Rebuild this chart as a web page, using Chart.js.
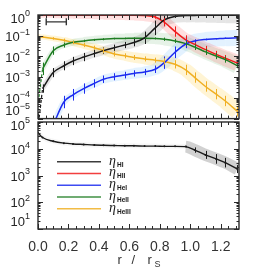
<!DOCTYPE html>
<html>
<head>
<meta charset="utf-8">
<script src="https://cdn.jsdelivr.net/npm/chart.js@4.4.1/dist/chart.umd.min.js"></script>
<style>
    body { margin: 0; background: #fff; width: 264px; height: 278px; overflow: hidden; position: relative; }
    canvas { position: absolute; left: 0; top: 0; }
</style>
</head>
<body>
<canvas id="bottomChart" width="264" height="278"></canvas>
<canvas id="topChart" width="264" height="124"></canvas>
<script>
// radius bins, r / r_S
var rGrid = [0, 0.03, 0.1, 0.17, 0.23, 0.3, 0.37, 0.43, 0.5, 0.57, 0.63, 0.7, 0.77, 0.83, 0.9, 0.97, 1.03, 1.1, 1.17, 1.23, 1.31];
var rMax = 1.32;

// top panel: log10 of the ion fractions
var logHI    = [null, -3.55, -2.78, -2.45, -2.22, -2.03, -1.86, -1.72, -1.58, -1.45, -1.33, -1.1, -0.62, -0.24, -0.07, -0.03, -0.02, -0.01, -0.01, -0.01, -0.01];
var logHII   = [-0.01, -0.01, -0.01, -0.01, -0.01, -0.01, -0.01, -0.01, -0.01, -0.01, -0.01, -0.03, -0.1, -0.35, -0.8, -1.2, -1.42, -1.67, -1.9, -2.08, -2.32];
var logHeI   = [null, null, -5.3, -4.2, -3.85, -3.55, -3.3, -3.1, -2.98, -2.9, -2.82, -2.75, -2.62, -2.3, -1.8, -1.4, -1.25, -1.18, -1.15, -1.12, -1.1];
var logHeII  = [null, -2.6, -1.72, -1.45, -1.32, -1.25, -1.2, -1.17, -1.14, -1.13, -1.12, -1.12, -1.13, -1.17, -1.25, -1.38, -1.55, -1.78, -1.98, -2.15, -2.45];
var logHeIII = [-1.04, -1.06, -1.13, -1.22, -1.33, -1.45, -1.58, -1.72, -1.88, -1.97, -2.05, -2.12, -2.18, -2.24, -2.38, -2.65, -3.02, -3.45, -3.82, -4.15, -4.65];

// half length of the error bars, dex
var errHI    = [0, 0.2, 0.22, 0.22, 0.2, 0.2, 0.18, 0.15, 0.15, 0.15, 0.18, 0.3, 0.35, 0.2, 0.05, 0.02, 0.01, 0.01, 0.01, 0.01, 0];
var errHII   = [0, 0, 0, 0, 0, 0, 0, 0, 0, 0, 0, 0.02, 0.08, 0.2, 0.25, 0.22, 0.2, 0.18, 0.17, 0.15, 0.12];
var errHeI   = [0, 0, 0, 0.3, 0.28, 0.25, 0.2, 0.18, 0.17, 0.16, 0.15, 0.15, 0.18, 0.3, 0.28, 0.2, 0.08, 0.04, 0.03, 0.03, 0.02];
var errHeII  = [0, 0.3, 0.2, 0.12, 0.08, 0.06, 0.05, 0.05, 0.04, 0.04, 0.04, 0.04, 0.05, 0.08, 0.1, 0.12, 0.14, 0.15, 0.15, 0.15, 0.12];
var errHeIII = [0, 0.05, 0.06, 0.08, 0.08, 0.1, 0.1, 0.12, 0.12, 0.12, 0.12, 0.12, 0.12, 0.15, 0.2, 0.25, 0.25, 0.25, 0.25, 0.25, 0.25];

// dashed inner parts
var rInnerHI = [0.004, 0.03];
var logInnerHI = [-5.2, -3.55];
var rInnerHeII = [0.002, 0.03];
var logInnerHeII = [-4.2, -2.6];

// resolution marker
var resX = [0.054, 0.186];
var resLog = -0.33;

// bottom panel
var logN = [4.6, 4.42, 4.28, 4.21, 4.18, 4.16, 4.14, 4.13, 4.12, 4.11, 4.11, 4.1, 4.1, 4.09, 4.09, 4.08, 3.95, 3.77, 3.62, 3.48, 3.24];
var errN = [0, 0, 0, 0, 0, 0, 0, 0, 0, 0, 0, 0, 0, 0, 0, 0.03, 0.1, 0.15, 0.18, 0.18, 0.15];

// axes
var xTickLabels = [0, 0.2, 0.4, 0.6, 0.8, 1.0, 1.2];
var topDecades = [0, -1, -2, -3, -4, -5];
var bottomDecades = [5, 4, 3, 2, 1];

var legendNames = ['HI', 'HII', 'HeI', 'HeII', 'HeIII'];
var colors = ['#1a1a1a', '#f01c1c', '#1c2cf0', '#1e7d22', '#f0b024'];
var clouds = ['rgba(0,0,0,0.10)', 'rgba(255,40,40,0.15)', 'rgba(70,170,255,0.15)', 'rgba(30,140,40,0.11)', 'rgba(255,200,40,0.2)'];

function pts(rs, logs) {
    var out = [];
    for (var i = 0; i < rs.length; i++) {
        out.push({ x: rs[i], y: logs[i] === null ? null : Math.pow(10, logs[i]) });
    }
    return out;
}

// spread gets wider further out
function spreadWidth(c) {
    return 5 + 9 * c.p0.parsed.x;
}

function curve(label, logs, errs, color, cloud) {
    return [{
        label: label, data: pts(rGrid, logs), logs: logs, errs: errs,
        borderColor: color, borderWidth: 1.5, pointRadius: 0,
        cubicInterpolationMode: 'monotone', clip: 0, order: 1
    }, {
        label: label + ' spread', data: pts(rGrid, logs),
        borderColor: cloud, borderWidth: 9, pointRadius: 0,
        segment: { borderWidth: spreadWidth },
        cubicInterpolationMode: 'monotone', clip: 0, order: 3
    }];
}

var errorBars = {
    id: 'errorBars',
    afterDatasetsDraw: function (chart) {
        var ctx = chart.ctx, a = chart.chartArea;
        var xs = chart.scales.x, ys = chart.scales.y;
        ctx.save();
        ctx.beginPath();
        ctx.rect(a.left, a.top, a.right - a.left, a.bottom - a.top);
        ctx.clip();
        chart.data.datasets.forEach(function (ds) {
            if (!ds.errs) return;
            ctx.strokeStyle = ds.borderColor;
            ctx.lineWidth = 1;
            ds.errs.forEach(function (e, i) {
                if (!e || ds.logs[i] === null) return;
                var x = Math.round(xs.getPixelForValue(rGrid[i])) + 0.5;
                ctx.beginPath();
                ctx.moveTo(x, ys.getPixelForValue(Math.pow(10, ds.logs[i] + e)));
                ctx.lineTo(x, ys.getPixelForValue(Math.pow(10, ds.logs[i] - e)));
                ctx.stroke();
            });
        });
        ctx.restore();
    }
};

var frame = {
    id: 'frame',
    afterDraw: function (chart, args, o) {
        var ctx = chart.ctx, a = chart.chartArea;
        var xs = chart.scales.x, ys = chart.scales.y;
        ctx.save();
        ctx.strokeStyle = '#2a2a2a';
        ctx.lineWidth = 1;
        ctx.beginPath();
        // inside ticks, x
        for (var k = 0; k * 0.05 <= rMax + 1e-9; k++) {
            var x = Math.round(xs.getPixelForValue(k * 0.05)) + 0.5;
            var len = k % 4 === 0 ? 5 : 3;
            ctx.moveTo(x, a.bottom); ctx.lineTo(x, a.bottom - len);
            ctx.moveTo(x, a.top); ctx.lineTo(x, a.top + len);
        }
        // inside ticks, log y
        for (var d = o.lo; d <= o.hi; d++) {
            for (var m = 1; m < 10; m++) {
                if (d === o.hi && m > 1) break;
                var y = Math.round(ys.getPixelForValue(m * Math.pow(10, d))) + 0.5;
                var l = m === 1 ? 5 : 2.5;
                ctx.moveTo(a.left, y); ctx.lineTo(a.left + l, y);
                ctx.moveTo(a.right, y); ctx.lineTo(a.right - l, y);
            }
        }
        ctx.stroke();
        ctx.lineWidth = 1.4;
        ctx.strokeRect(a.left, a.top, a.right - a.left, a.bottom - a.top);

        // y labels 10^n
        ctx.fillStyle = '#262626';
        ctx.textBaseline = 'middle';
        ctx.textAlign = 'left';
        o.decades.forEach(function (dec) {
            var yc = ys.getPixelForValue(Math.pow(10, dec)) + 1.5;
            yc = Math.min(Math.max(yc, a.top + 4), a.bottom - 7);
            var exp = String(dec).replace('-', '\u2212');
            ctx.font = '9px "Liberation Sans", Arial, sans-serif';
            var we = ctx.measureText(exp).width;
            ctx.font = '13px "Liberation Sans", Arial, sans-serif';
            var wb = ctx.measureText('10').width;
            var xr = a.left - 8;
            ctx.fillText('10', xr - we - wb, yc);
            ctx.font = '9px "Liberation Sans", Arial, sans-serif';
            ctx.fillText(exp, xr - we, yc - 5);
        });
        ctx.restore();
    }
};

var bottomDecor = {
    id: 'bottomDecor',
    afterDraw: function (chart) {
        var ctx = chart.ctx, a = chart.chartArea;
        ctx.save();
        // legend
        legendNames.forEach(function (name, i) {
            var y = a.top + 39.7 + i * 11.75;
            ctx.strokeStyle = colors[i];
            ctx.globalAlpha = 0.85;
            ctx.lineWidth = 1.5;
            ctx.beginPath();
            ctx.moveTo(a.left + 19, y);
            ctx.lineTo(a.left + 63, y);
            ctx.stroke();
            ctx.globalAlpha = 1;
            ctx.fillStyle = '#1a1a1a';
            ctx.textAlign = 'left';
            ctx.textBaseline = 'alphabetic';
            ctx.font = 'italic 14px "Liberation Serif", serif';
            ctx.fillText('\u03b7', a.left + 71, y + 3);
            ctx.font = 'bold 6.5px "Liberation Sans", Arial, sans-serif';
            ctx.fillText(name, a.left + 79, y + 5);
        });
        // axis title r / r_S
        var cx = (a.left + a.right) / 2;
        ctx.fillStyle = '#333';
        ctx.font = '13px "Liberation Sans", Arial, sans-serif';
        ctx.fillText('r', cx - 21, 264);
        ctx.fillText('/', cx - 7, 264);
        ctx.fillText('r', cx + 9, 264);
        ctx.font = '9px "Liberation Sans", Arial, sans-serif';
        ctx.fillText('S', cx + 16, 267);
        ctx.restore();
    }
};

// top panel datasets
var topSets = [];
topSets = topSets.concat(curve('HI', logHI, errHI, colors[0], clouds[0]));
topSets = topSets.concat(curve('HII', logHII, errHII, colors[1], clouds[1]));
topSets = topSets.concat(curve('HeI', logHeI, errHeI, colors[2], clouds[2]));
topSets = topSets.concat(curve('HeII', logHeII, errHeII, colors[3], clouds[3]));
topSets = topSets.concat(curve('HeIII', logHeIII, errHeIII, colors[4], clouds[4]));
topSets.push({
    label: 'HI inner', data: pts(rInnerHI, logInnerHI), borderColor: colors[0],
    borderWidth: 1.2, borderDash: [3, 2], pointRadius: 0, clip: 0, order: 1
});
topSets.push({
    label: 'HeII inner', data: pts(rInnerHeII, logInnerHeII), borderColor: colors[3],
    borderWidth: 1.2, borderDash: [3, 2], pointRadius: 0, clip: 0, order: 1
});
topSets.push({
    label: 'resolution', data: resX.map(function (r) { return { x: r, y: Math.pow(10, resLog) }; }),
    borderColor: '#333', borderWidth: 1.4, pointStyle: 'line', rotation: 90, pointRadius: 3.5,
    pointBorderColor: '#333', pointBorderWidth: 1.4, clip: 0, order: 1
});

const topChart = new Chart(document.getElementById('topChart'), {
    type: 'line',
    data: { datasets: topSets },
    options: {
        responsive: false,
        animation: false,
        events: [],
        layout: { padding: { left: 0, top: 15, right: 25, bottom: 2 } },
        plugins: {
            legend: { display: false },
            tooltip: { enabled: false },
            frame: { lo: -5, hi: 0, decades: topDecades }
        },
        scales: {
            x: { type: 'linear', min: 0, max: rMax, display: false },
            y: {
                type: 'logarithmic', min: 1e-5, max: 1,
                grid: { display: false, drawTicks: false }, border: { display: false },
                ticks: { display: false },
                afterFit: function (s) { s.width = 38; }
            }
        }
    },
    plugins: [errorBars, frame]
});

// bottom panel
const bottomChart = new Chart(document.getElementById('bottomChart'), {
    type: 'line',
    data: {
        datasets: [{
            label: 'n', data: pts(rGrid, logN), logs: logN, errs: errN,
            borderColor: colors[0], borderWidth: 1.4, pointRadius: 1, pointBackgroundColor: colors[0],
            pointBorderWidth: 0, cubicInterpolationMode: 'monotone', clip: 0, order: 1
        }, {
            label: 'n spread', data: pts(rGrid, logN), borderWidth: 10, pointRadius: 0,
            cubicInterpolationMode: 'monotone', clip: 0, order: 3,
            borderColor: 'rgba(0,0,0,0.18)',
            segment: {
                borderColor: function (c) { return c.p0.parsed.x >= 0.95 ? 'rgba(0,0,0,0.18)' : 'rgba(0,0,0,0.03)'; },
                borderWidth: function (c) { return c.p0.parsed.x >= 0.95 ? 12 : 5; }
            }
        }]
    },
    options: {
        responsive: false,
        animation: false,
        events: [],
        layout: { padding: { left: 0, top: 122, right: 25, bottom: 0 } },
        plugins: {
            legend: { display: false },
            tooltip: { enabled: false },
            frame: { lo: 1, hi: 5, decades: bottomDecades }
        },
        scales: {
            x: {
                type: 'linear', min: 0, max: rMax,
                grid: { display: false, drawTicks: false }, border: { display: false },
                afterBuildTicks: function (s) { s.ticks = xTickLabels.map(function (v) { return { value: v }; }); },
                ticks: {
                    padding: 10, color: '#333', maxRotation: 0, autoSkip: false,
                    font: { family: '"Liberation Sans", Arial, sans-serif', size: 14 },
                    callback: function (v) { return Number(v).toFixed(1); }
                },
                afterFit: function (s) { s.height = 49; }
            },
            y: {
                type: 'logarithmic', min: 10, max: 1e5,
                grid: { display: false, drawTicks: false }, border: { display: false },
                ticks: { display: false },
                afterFit: function (s) { s.width = 38; }
            }
        }
    },
    plugins: [errorBars, frame, bottomDecor]
});
</script>
</body>
</html>
